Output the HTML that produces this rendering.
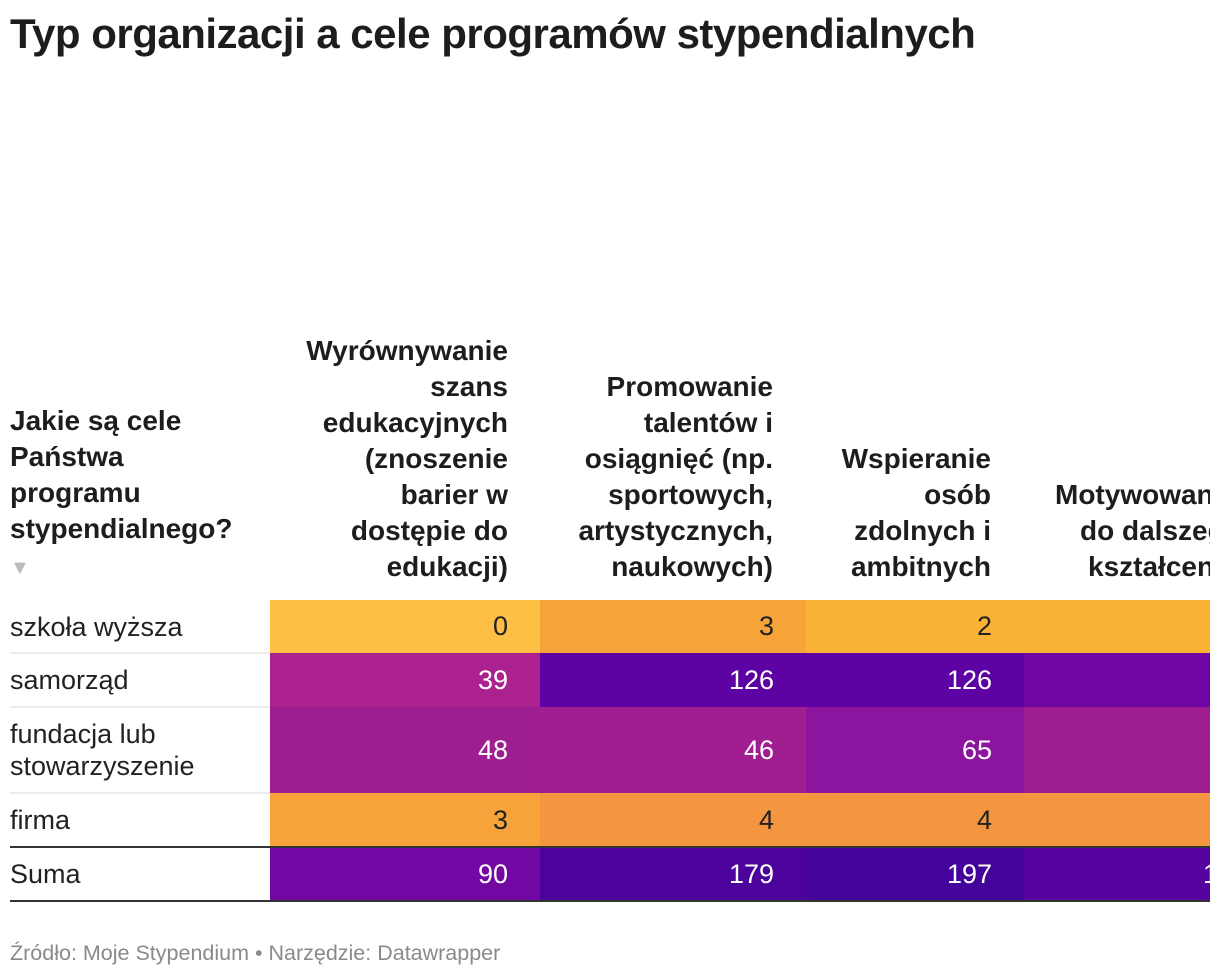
<!DOCTYPE html>
<html><head><meta charset="utf-8">
<style>
body{margin:0;width:1220px;height:978px;background:#fff;font-family:"Liberation Sans",sans-serif;overflow:hidden;position:relative;color:#1d1d1d}
.title{position:absolute;left:10px;top:10px;font-size:42px;font-weight:bold;letter-spacing:-0.5px}
.wrap{position:absolute;left:0;top:0;width:1210px;height:978px;overflow:hidden}
.hdr{position:absolute;font-weight:bold;font-size:28px;line-height:36px;text-align:right;white-space:nowrap}
.lbl{position:absolute;left:10px;font-size:27px;line-height:32px;color:#222}
.cell{position:absolute;font-size:27px;color:#fff;text-align:right;box-sizing:border-box}
.sep{position:absolute;left:10px;width:260px;height:2px;background:#ececec}
.foot{position:absolute;left:10px;top:941px;font-size:21.5px;color:#8a8a8a}
</style></head><body>
<div class="title">Typ organizacji a cele programów stypendialnych</div>
<div class="wrap" id="wrap">
<div class="hdr" style="left:10px;top:403px;text-align:left">Jakie są cele<br>Państwa<br>programu<br>stypendialnego?<br><span style="color:#bbb;font-size:20px">▼</span></div>
<div class="hdr" style="right:702px;top:333px">Wyrównywanie<br>szans<br>edukacyjnych<br>(znoszenie<br>barier w<br>dostępie do<br>edukacji)</div>
<div class="hdr" style="right:437px;top:369px">Promowanie<br>talentów i<br>osiągnięć (np.<br>sportowych,<br>artystycznych,<br>naukowych)</div>
<div class="hdr" style="right:219px;top:441px">Wspieranie<br>osób<br>zdolnych i<br>ambitnych</div>
<div class="hdr" style="left:1055px;top:477px;text-align:left">Motywowanie<br><span style="padding-left:25px">do dalszego</span><br><span style="padding-left:33px">kształcenia</span></div>
</div>
<div class="foot">Źródło: Moje Stypendium • Narzędzie: Datawrapper</div>
<script>
const rows = ["szkoła wyższa","samorząd","fundacja lub stowarzyszenie","firma","Suma"];
const col1 = [0,39,48,3,90];
const col2 = [3,126,46,4,179];
const col3 = [2,126,65,4,197];
const col4 = [2,95,48,4,149];
const stops=[[0,"#fec044"],[2,"#f9b234"],[3,"#f6a33a"],[4,"#f4953f"],[39,"#ab228f"],[48,"#9e1d91"],[65,"#8c15a0"],[90,"#7207a3"],[126,"#5e03a3"],[197,"#44039a"]];
function hx(c){return [1,3,5].map(i=>parseInt(c.substr(i,2),16));}
function color(v){
  if(v<=stops[0][0])return stops[0][1];
  for(let i=1;i<stops.length;i++){if(v<=stops[i][0]){const a=stops[i-1],b=stops[i];const t=(v-a[0])/(b[0]-a[0]);const ca=hx(a[1]),cb=hx(b[1]);return "rgb("+ca.map((x,k)=>Math.round(x+(cb[k]-x)*t)).join(",")+")";}}
  return stops[stops.length-1][1];
}
const wrap=document.getElementById('wrap');
const rowTop=[600,653,707,793,847,901];
const colX=[270,540,806,1024,1280];
const cols=[col1,col2,col3,col4];
rows.forEach((r,i)=>{
  const t=rowTop[i],h=rowTop[i+1]-t;
  const l=document.createElement('div');l.className='lbl';
  
  
  l.style.top=(t+(h-(i==2?64:32))/2)+'px';
  l.innerHTML=i==2?'fundacja lub<br>stowarzyszenie':r;
  wrap.appendChild(l);
  if(i<3){const s=document.createElement('div');s.className='sep';
    
    
    s.style.top=(rowTop[i+1]-1)+'px';wrap.appendChild(s);}
  cols.forEach((c,j)=>{
    const d=document.createElement('div');d.className='cell';
    
    
    d.style.left=colX[j]+'px';d.style.width=(colX[j+1]-colX[j])+'px';
    d.style.top=t+'px';d.style.height=h+'px';d.style.lineHeight=h+'px';
    d.style.paddingRight='32px';
    d.style.background=color(c[i]);
    d.style.color=c[i]<10?'#222':'#fff';
    d.textContent=c[i];
    wrap.appendChild(d);
  });
});
[846,900].forEach(y=>{const l=document.createElement('div');
  
  
  l.style.cssText='position:absolute;left:10px;width:1200px;height:2px;background:#333;top:'+y+'px';wrap.appendChild(l);});
</script>
</body></html>
